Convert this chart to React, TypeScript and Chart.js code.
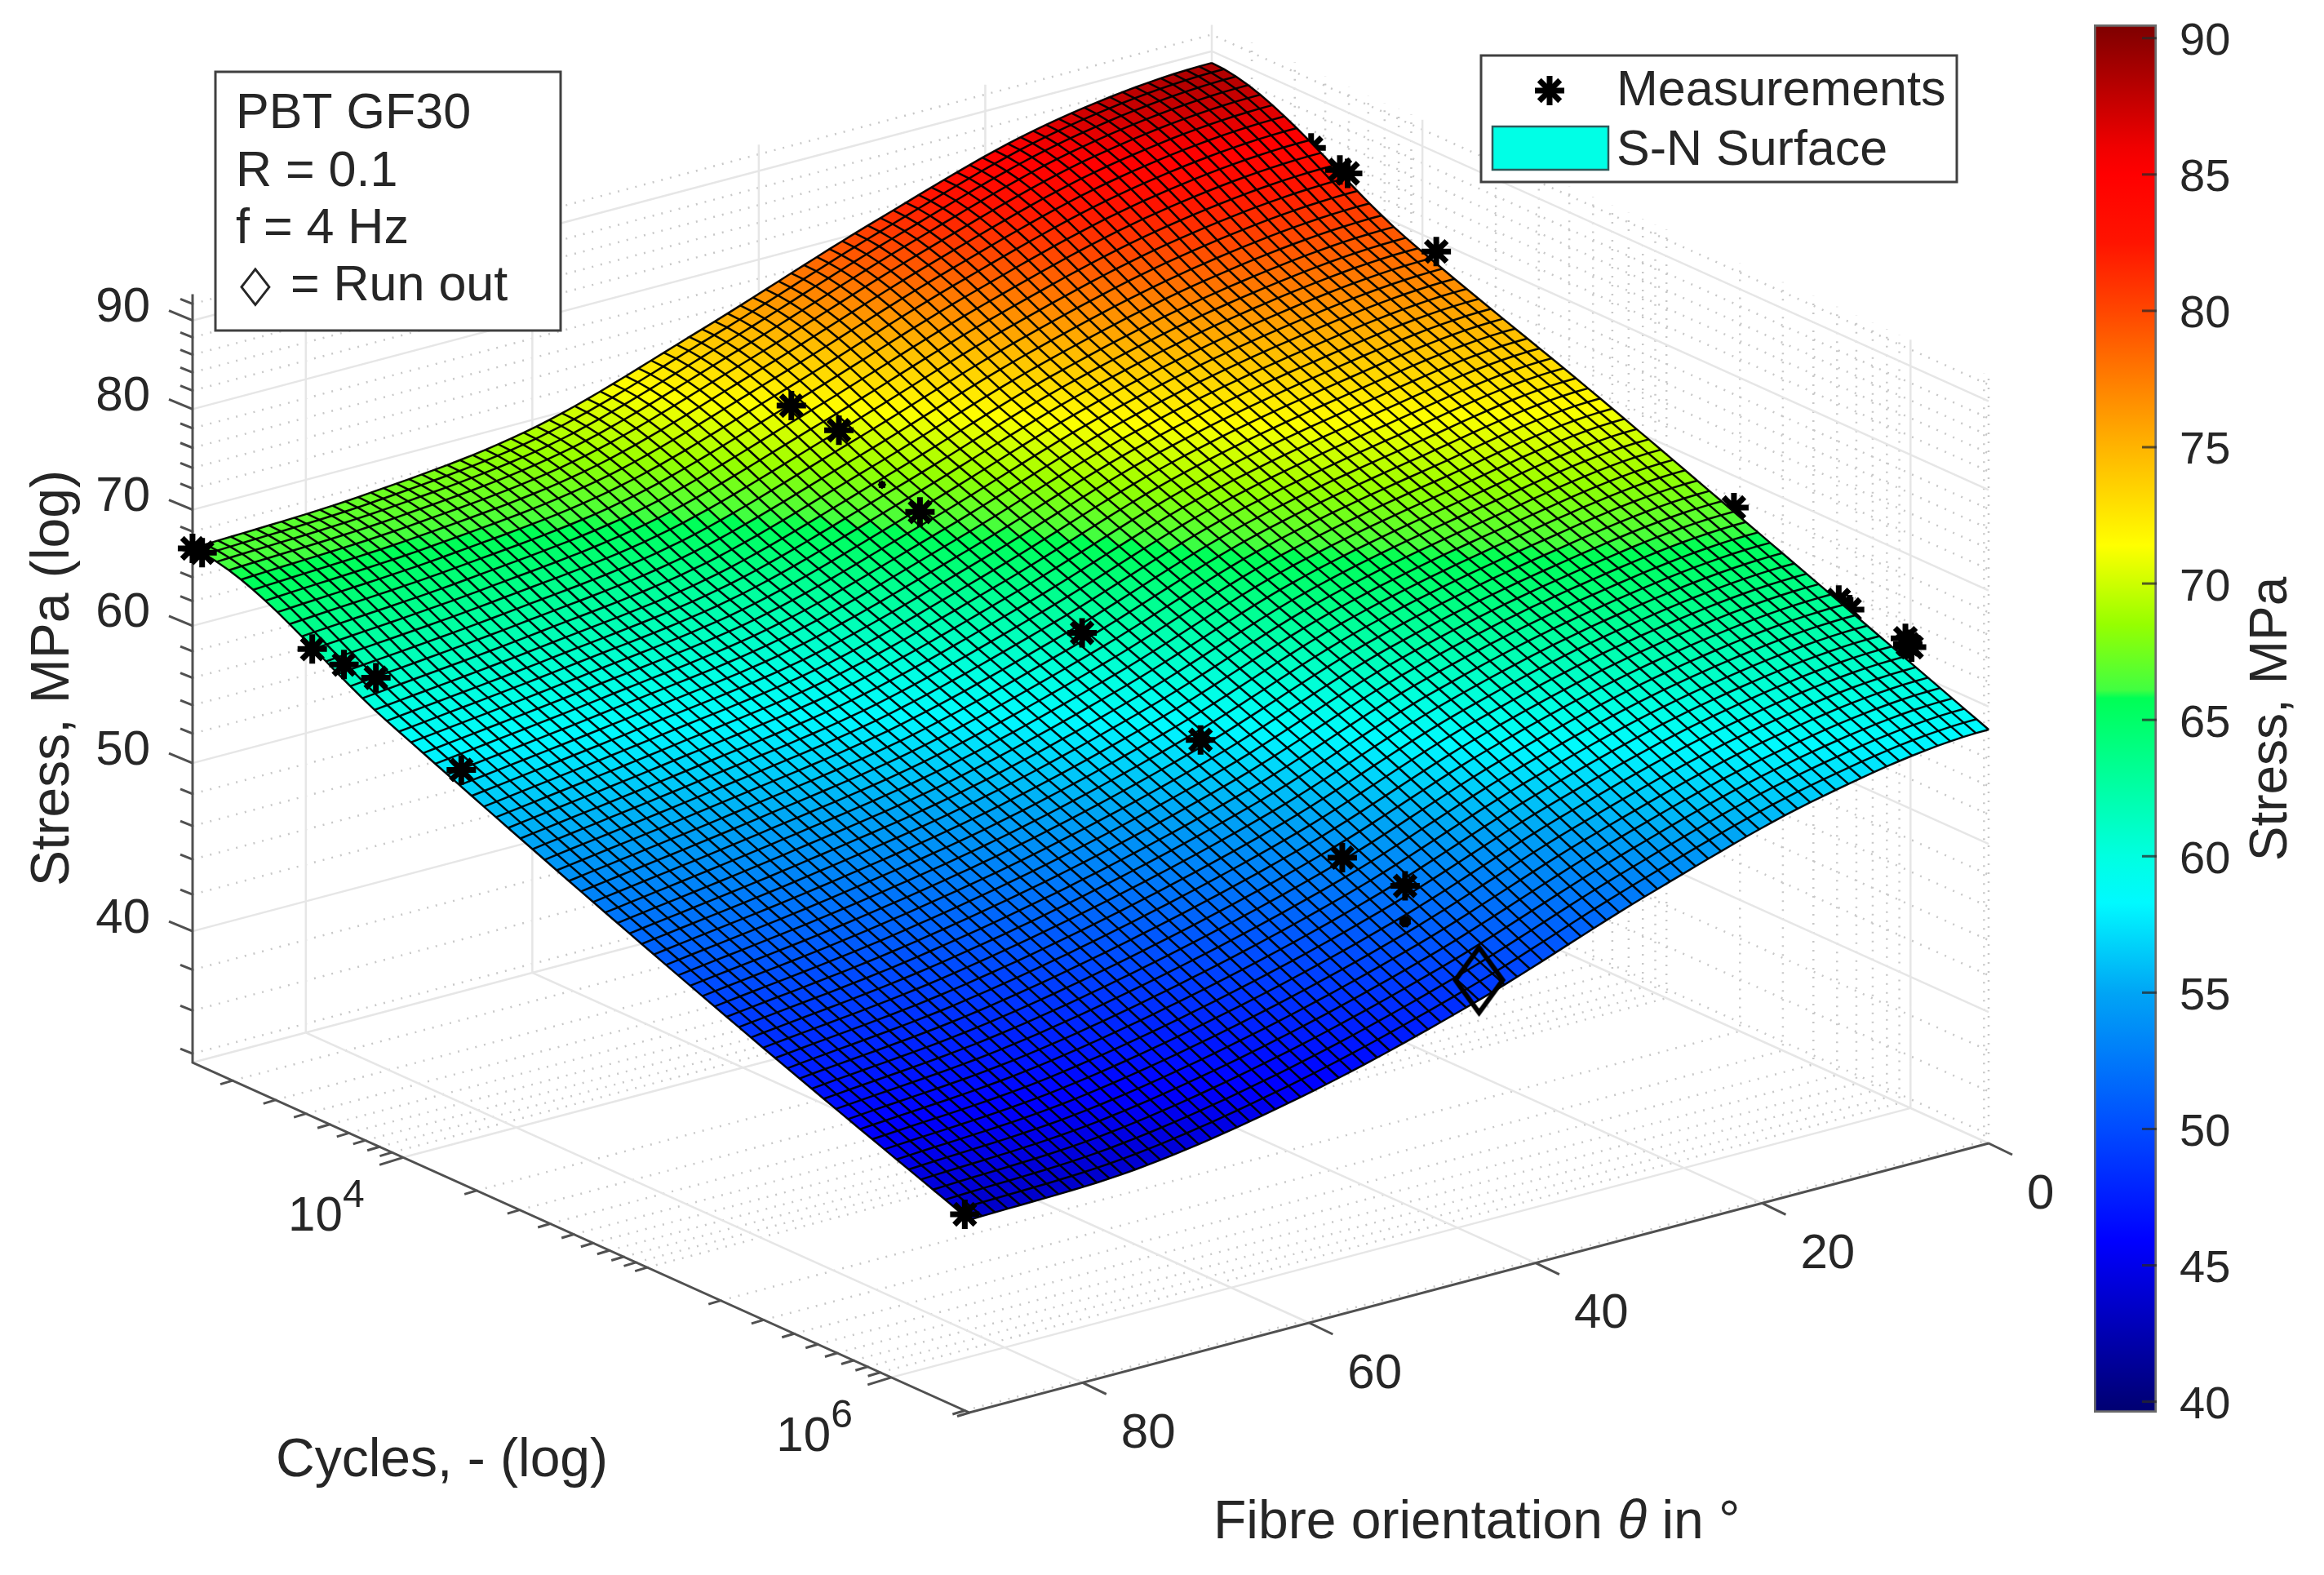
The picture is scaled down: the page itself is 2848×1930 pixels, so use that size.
import React, { useEffect, useRef } from "react";
import { Chart, registerables } from "chart.js";

Chart.register(...registerables);

// ---------- data ----------
const surfaceThetas = [0, 15, 30, 45, 60, 75, 90];
const surfaceCycles = [1370, 8570, 53600, 334000, 2090000];
const surfaceStress = [
  [88.6, 78.9, 71.6, 64.6, 58.2],
  [86.4, 77.1, 69.3, 63.0, 56.4],
  [80.7, 73.1, 66.0, 59.5, 52.7],
  [74.4, 67.7, 61.0, 54.8, 48.6],
  [69.2, 63.1, 57.2, 51.5, 45.6],
  [67.2, 61.0, 55.0, 49.2, 43.8],
  [66.5, 59.4, 53.2, 47.9, 43.4],
];

const measuredTheta = [90, 90, 90, 90, 90, 90, 90, 45, 45, 45, 45, 45, 45, 45, 45, 45, 0, 0, 0, 0, 0, 0];
const measuredCycles = [1370, 1500, 4240, 5720, 7730, 17300, 2000000, 3180, 4980, 10700, 49400, 151000, 575000, 1040000, 7480, 1040000, 4590, 4940, 11400, 975000, 953000, 1010000];
const measuredStress = [66.5, 66.5, 62.5, 62.4, 62.5, 58.2, 43.6, 70.9, 70.6, 66.5, 62.4, 58.1, 54.1, 54.1, 67.4, 51.6, 83.0, 83.0, 78.9, 62.1, 62.5, 62.0];
const measuredRadius = [18, 18, 18, 18, 18, 18, 18, 18, 18, 18, 18, 18, 18, 18, 4, 7, 18, 18, 18, 18, 18, 18];

const buriedTheta = [0, 0, 0, 0];
const buriedCycles = [3500, 189000, 508000, 563000];
const buriedStress = [84.0, 67.1, 63.2, 62.8];

const runOutTheta = [45];
const runOutCycles = [2090000];
const runOutStress = [49.9];

const thetaMajor = [0, 20, 40, 60, 80];
const cycleMajor = [1e4, 1e6];
const cycleMinor = [2e3, 3e3, 4e3, 5e3, 6e3, 7e3, 8e3, 9e3, 2e4, 3e4, 4e4, 5e4, 6e4, 7e4, 8e4, 9e4, 1e5, 2e5, 3e5, 4e5, 5e5, 6e5, 7e5, 8e5, 9e5, 2e6];
const stressMajor = [40, 50, 60, 70, 80, 90];
const stressMinor = [34, 36, 38, 42, 44, 46, 48, 52, 54, 56, 58, 62, 64, 66, 68, 72, 74, 76, 78, 82, 84, 86, 88, 92];
const colorbarTicks = [40, 45, 50, 55, 60, 65, 70, 75, 80, 85, 90];
const colorStops: [number, number, number, number][] = [
  [39.6, 0, 0, 112], [45.9, 0, 0, 255], [50, 0, 75, 255], [55, 0, 165, 245], [58.3, 0, 250, 255],
  [60, 0, 255, 225], [65.8, 0, 255, 85], [66.1, 65, 255, 65], [68.5, 150, 255, 0], [70, 205, 255, 0],
  [71.4, 255, 255, 0], [75, 255, 180, 0], [77.5, 255, 125, 0], [80, 255, 70, 0], [82.5, 255, 20, 0],
  [85, 255, 0, 0], [86, 240, 0, 0], [90.5, 125, 0, 0],
];
const noteLines = ["PBT GF30", "R = 0.1", "f = 4 Hz"];

// ---------- view ----------
const W = 2848, H = 1930;
const THETA_MAX = 90, LOGN_MIN = 3.137, LOGN_SPAN = 3.183, Z_MIN = 33.6, Z_MAX = 93.2;
const FONT = '"Liberation Sans", Arial, sans-serif';
const TEXT = "#262626";

function project(theta: number, cycles: number, stress: number) {
  const u = (Math.log10(cycles) - LOGN_MIN) / LOGN_SPAN;
  const a = THETA_MAX - theta;
  return {
    x: 236 + (1249 / 90) * a + 952 * u,
    y: 1302 - (330 / 90) * a + 429 * u - 2125 * Math.log10(stress / Z_MIN),
  };
}
const Nmin = Math.pow(10, LOGN_MIN), Nmax = Math.pow(10, LOGN_MIN + LOGN_SPAN);
const gap = { x: NaN, y: NaN };

function segs(list: [number, number, number][][]) {
  const out: any[] = [];
  list.forEach((s) => { s.forEach((p) => out.push(project(p[0], p[1], p[2]))); out.push(gap); });
  return out;
}

function colorFor(v: number) {
  const s = colorStops;
  if (v <= s[0][0]) return `rgb(${s[0][1]},${s[0][2]},${s[0][3]})`;
  for (let i = 1; i < s.length; i++) {
    if (v <= s[i][0]) {
      const t = (v - s[i - 1][0]) / (s[i][0] - s[i - 1][0]);
      const c = [1, 2, 3].map((k) => Math.round(s[i - 1][k] + t * (s[i][k] - s[i - 1][k])));
      return `rgb(${c[0]},${c[1]},${c[2]})`;
    }
  }
  const l = s[s.length - 1];
  return `rgb(${l[1]},${l[2]},${l[3]})`;
}

// smooth drawing of the read table (same role as a line's tension)
function cr(a: number, b: number, c: number, d: number, t: number) {
  return 0.5 * (2 * b + (c - a) * t + (2 * a - 5 * b + 4 * c - d) * t * t + (3 * b - a - 3 * c + d) * t * t * t);
}
function pick(i: number, j: number) {
  const ni = surfaceStress.length - 1, nj = surfaceStress[0].length - 1;
  const ci = Math.max(0, Math.min(ni, i)), cj = Math.max(0, Math.min(nj, j));
  let v = Math.log10(surfaceStress[ci][cj]);
  if (i !== ci) v += (i - ci) * (Math.log10(surfaceStress[ci][cj]) - Math.log10(surfaceStress[ci === 0 ? 1 : ni - 1][cj]));
  if (j !== cj) v += (j - cj) * (Math.log10(surfaceStress[ci][cj]) - Math.log10(surfaceStress[ci][cj === 0 ? 1 : nj - 1]));
  return v;
}
function stressAt(fi: number, fj: number) {
  const i = Math.min(surfaceStress.length - 2, Math.floor(fi)), j = Math.min(surfaceStress[0].length - 2, Math.floor(fj));
  const ti = fi - i, tj = fj - j;
  const row = [-1, 0, 1, 2].map((di) =>
    cr(pick(i + di, j - 1), pick(i + di, j), pick(i + di, j + 1), pick(i + di, j + 2), tj));
  return Math.pow(10, cr(row[0], row[1], row[2], row[3], ti));
}

const MESH_T = 80, MESH_N = 64;
const surfacePlugin = {
  id: "surfaceMesh",
  beforeDatasetDraw(chart: any, args: any) {
    if (chart.data.datasets[args.index].label !== "S-N Surface") return;
    const { ctx, scales } = chart;
    const P: { x: number; y: number; z: number }[][] = [];
    const lo = Math.log10(surfaceCycles[0]), hi = Math.log10(surfaceCycles[surfaceCycles.length - 1]);
    for (let a = 0; a <= MESH_T; a++) {
      const row = [];
      for (let b = 0; b <= MESH_N; b++) {
        const theta = (THETA_MAX * a) / MESH_T;
        const logN = lo + ((hi - lo) * b) / MESH_N;
        const z = stressAt((a / MESH_T) * (surfaceThetas.length - 1), (b / MESH_N) * (surfaceCycles.length - 1));
        const p = project(theta, Math.pow(10, logN), z);
        row.push({ x: scales.x.getPixelForValue(p.x), y: scales.y.getPixelForValue(p.y), z });
      }
      P.push(row);
    }
    ctx.save();
    ctx.lineWidth = 1;
    for (let a = 0; a < MESH_T; a++) {
      for (let b = 0; b < MESH_N; b++) {
        const q = [P[a][b], P[a + 1][b], P[a + 1][b + 1], P[a][b + 1]];
        const col = colorFor((q[0].z + q[1].z + q[2].z + q[3].z) / 4);
        ctx.fillStyle = col; ctx.strokeStyle = col;
        ctx.beginPath();
        q.forEach((p, k) => (k ? ctx.lineTo(p.x, p.y) : ctx.moveTo(p.x, p.y)));
        ctx.closePath(); ctx.fill(); ctx.stroke();
      }
    }
    ctx.strokeStyle = "rgba(0,0,0,0.95)";
    ctx.lineWidth = 2.5;
    ctx.lineJoin = "round";
    for (let a = 0; a <= MESH_T; a++) {
      ctx.beginPath();
      for (let b = 0; b <= MESH_N; b++) (b ? ctx.lineTo(P[a][b].x, P[a][b].y) : ctx.moveTo(P[a][b].x, P[a][b].y));
      ctx.stroke();
    }
    for (let b = 0; b <= MESH_N; b++) {
      ctx.beginPath();
      for (let a = 0; a <= MESH_T; a++) (a ? ctx.lineTo(P[a][b].x, P[a][b].y) : ctx.moveTo(P[a][b].x, P[a][b].y));
      ctx.stroke();
    }
    ctx.restore();
  },
};

function text(ctx: any, s: string, x: number, y: number, size: number, align = "left", base = "alphabetic", style = "") {
  ctx.font = `${style} ${size}px ${FONT}`;
  ctx.fillStyle = TEXT;
  ctx.textAlign = align;
  ctx.textBaseline = base;
  ctx.fillText(s, x, y);
}

const labelsPlugin = {
  id: "labels3d",
  afterDraw(chart: any) {
    const { ctx, scales } = chart;
    const px = (p: { x: number; y: number }) => ({ x: scales.x.getPixelForValue(p.x), y: scales.y.getPixelForValue(p.y) });
    ctx.save();
    // stress tick labels
    stressMajor.forEach((v) => {
      const p = px(project(THETA_MAX, Nmin, v));
      text(ctx, String(v), 184, p.y - 15, 60, "right", "middle");
    });
    // orientation tick labels
    thetaMajor.forEach((v) => {
      const p = px(project(v, Nmax, Z_MIN));
      text(ctx, String(v), p.x + 47, p.y + 63, 60, "left", "middle");
    });
    // cycle tick labels
    cycleMajor.forEach((v) => {
      const p = px(project(THETA_MAX, v, Z_MIN));
      text(ctx, "10", p.x - 141, p.y + 90, 60);
      text(ctx, String(Math.round(Math.log10(v))), p.x - 74, p.y + 61, 48);
    });
    // axis titles
    ctx.save();
    ctx.translate(84, 831);
    ctx.rotate(-Math.PI / 2);
    text(ctx, "Stress, MPa (log)", 0, 0, 66, "center");
    ctx.restore();
    text(ctx, "Cycles, - (log)", 338, 1809, 66);
    let fx = 1487;
    text(ctx, "Fibre orientation ", fx, 1885, 66);
    fx += ctx.measureText("Fibre orientation ").width;
    text(ctx, "\u03b8", fx, 1885, 66, "left", "alphabetic", "italic");
    fx += ctx.measureText("\u03b8").width;
    text(ctx, " in \u00b0", fx, 1885, 66);
    // annotation box
    ctx.fillStyle = "#fff"; ctx.strokeStyle = "#404040"; ctx.lineWidth = 3;
    ctx.fillRect(264, 88, 423, 317); ctx.strokeRect(264, 88, 423, 317);
    noteLines.forEach((s, i) => text(ctx, s, 289, 157 + i * 70.5, 61));
    ctx.save();
    ctx.translate(313, 352);
    ctx.scale(0.82, 1.05);
    ctx.font = `60px "DejaVu Sans"`;
    ctx.fillStyle = TEXT; ctx.textAlign = "center"; ctx.textBaseline = "middle";
    ctx.fillText("\u25c7", 0, 0);
    ctx.restore();
    text(ctx, "= Run out", 356, 368, 61);
    // legend box
    ctx.fillStyle = "#fff"; ctx.strokeStyle = "#404040"; ctx.lineWidth = 3;
    ctx.fillRect(1815, 68, 583, 155); ctx.strokeRect(1815, 68, 583, 155);
    ctx.strokeStyle = "#000"; ctx.lineWidth = 7; ctx.lineCap = "butt";
    for (let k = 0; k < 4; k++) {
      const an = (k * Math.PI) / 4;
      ctx.beginPath();
      ctx.moveTo(1899 - 18 * Math.cos(an), 111 - 18 * Math.sin(an));
      ctx.lineTo(1899 + 18 * Math.cos(an), 111 + 18 * Math.sin(an));
      ctx.stroke();
    }
    text(ctx, "Measurements", 1981, 129, 61);
    ctx.fillStyle = "rgb(0,255,230)"; ctx.strokeStyle = "#2c5a5a"; ctx.lineWidth = 2.5;
    ctx.fillRect(1829, 155, 142, 53); ctx.strokeRect(1829, 155, 142, 53);
    text(ctx, "S-N Surface", 1981, 202, 61);
    ctx.restore();
  },
};

const colorbarPlugin = {
  id: "colorbarDecor",
  afterDraw(chart: any) {
    const { ctx, chartArea, scales } = chart;
    ctx.save();
    ctx.strokeStyle = "rgba(40,40,40,0.75)";
    ctx.lineWidth = 3;
    colorbarTicks.forEach((v) => {
      const y = scales.y.getPixelForValue(v);
      ctx.beginPath();
      ctx.moveTo(chartArea.right - 18, y);
      ctx.lineTo(chartArea.right, y);
      ctx.stroke();
    });
    ctx.translate(2802 - 2540, 881);
    ctx.rotate(-Math.PI / 2);
    text(ctx, "Stress, MPa", 0, 0, 64, "center");
    ctx.restore();
  },
};

function lineSet(label: string, data: any[], color: string, width: number, order: number, dash?: number[]) {
  return { label, data, showLine: true, spanGaps: false, borderColor: color, borderWidth: width, borderDash: dash || [], pointRadius: 0, order, clip: false, tension: 0 };
}

function diamondImage() {
  const c = document.createElement("canvas");
  c.width = 70; c.height = 92;
  const g = c.getContext("2d") as CanvasRenderingContext2D;
  g.strokeStyle = "#000"; g.lineWidth = 6; g.lineJoin = "miter";
  g.beginPath();
  g.moveTo(35, 6); g.lineTo(64, 46); g.lineTo(35, 86); g.lineTo(6, 46); g.closePath();
  g.stroke();
  return c;
}

export default function App() {
  const mainRef = useRef<HTMLCanvasElement>(null);
  const barRef = useRef<HTMLCanvasElement>(null);

  useEffect(() => {
    const gridSolid = segs([
      ...stressMajor.map((z) => [[90, Nmin, z], [0, Nmin, z], [0, Nmax, z]] as [number, number, number][]),
      ...thetaMajor.filter((t) => t > 0).map((t) => [[t, Nmax, Z_MIN], [t, Nmin, Z_MIN], [t, Nmin, Z_MAX]] as [number, number, number][]),
      ...cycleMajor.map((n) => [[90, n, Z_MIN], [0, n, Z_MIN], [0, n, Z_MAX]] as [number, number, number][]),
      [[90, Nmin, Z_MIN], [0, Nmin, Z_MIN], [0, Nmax, Z_MIN]],
      [[0, Nmin, Z_MIN], [0, Nmin, Z_MAX]],
    ]);
    const gridDotted = segs([
      ...stressMinor.map((z) => [[90, Nmin, z], [0, Nmin, z], [0, Nmax, z]] as [number, number, number][]),
      ...cycleMinor.map((n) => [[90, n, Z_MIN], [0, n, Z_MIN], [0, n, Z_MAX]] as [number, number, number][]),
      [[0, Nmax, Z_MIN], [0, Nmax, Z_MAX]],
    ]);
    const axisLines = segs([
      [[90, Nmin, Z_MAX], [90, Nmin, Z_MIN], [90, Nmax, Z_MIN], [0, Nmax, Z_MIN]],
    ]);
    const ticks: any[] = [];
    const tick = (p: { x: number; y: number }, dx: number, dy: number) => {
      ticks.push(p, { x: p.x + dx, y: p.y + dy }, gap);
    };
    stressMajor.forEach((z) => tick(project(90, Nmin, z), -29, -12));
    stressMinor.forEach((z) => tick(project(90, Nmin, z), -15, -6));
    cycleMajor.forEach((n) => tick(project(90, n, Z_MIN), -29, 9));
    cycleMinor.forEach((n) => tick(project(90, n, Z_MIN), -15, 4.5));
    thetaMajor.forEach((t) => tick(project(t, Nmax, Z_MIN), 29, 14));
    tick(project(90, Nmax, Z_MIN), -15, 4.5);

    const control: any[] = [];
    surfaceThetas.forEach((t, i) => surfaceCycles.forEach((n, j) => control.push(project(t, n, surfaceStress[i][j]))));
    const pts = (th: number[], cy: number[], st: number[]) => th.map((t, i) => project(t, cy[i], st[i]));

    const main = new Chart(mainRef.current as HTMLCanvasElement, {
      type: "scatter",
      data: {
        datasets: [
          lineSet("grid", gridSolid, "rgb(230,230,230)", 2.5, 20),
          lineSet("minor grid", gridDotted, "rgb(200,200,200)", 2.5, 21, [2, 9]),
          lineSet("axes", axisLines, "rgb(80,80,80)", 3, 18),
          lineSet("ticks", ticks, "rgb(80,80,80)", 3, 19),
          { label: "Buried measurements", data: pts(buriedTheta, buriedCycles, buriedStress), pointStyle: "star", pointRadius: 18, pointBorderWidth: 7, pointBorderColor: "#000", pointBackgroundColor: "#000", order: 10, clip: false },
          { label: "S-N Surface", data: control, pointRadius: 0, order: 9, clip: false },
          { label: "Measurements", data: pts(measuredTheta, measuredCycles, measuredStress), pointStyle: "star", pointRadius: measuredRadius, pointBorderWidth: 7, pointBorderColor: "#000", pointBackgroundColor: "#000", order: 5, clip: false },
          { label: "Run out", data: pts(runOutTheta, runOutCycles, runOutStress), pointStyle: diamondImage(), pointRadius: 30, order: 4, clip: false },
        ] as any,
      },
      options: {
        animation: false,
        responsive: false,
        events: [],
        layout: { padding: 0, autoPadding: false },
        plugins: { legend: { display: false }, tooltip: { enabled: false } },
        scales: {
          x: { type: "linear", display: false, min: 0, max: W },
          y: { type: "linear", display: false, min: 0, max: H, reverse: true },
        },
      } as any,
      plugins: [surfacePlugin, labelsPlugin] as any,
    });

    const bar = new Chart(barRef.current as HTMLCanvasElement, {
      type: "bar",
      data: {
        labels: [""],
        datasets: [{
          label: "Stress, MPa",
          data: [[colorStops[0][0], colorStops[colorStops.length - 1][0]]],
          categoryPercentage: 1,
          barPercentage: 1,
          borderWidth: 3,
          borderSkipped: false,
          borderColor: "#6a6a6a",
          backgroundColor: (c: any) => {
            const s = c.chart.scales.y;
            const area = c.chart.chartArea;
            if (!s || !area) return "#000";
            const lo = colorStops[0][0], hi = colorStops[colorStops.length - 1][0];
            const y0 = s.getPixelForValue(lo), y1 = s.getPixelForValue(hi);
            if (!Number.isFinite(y0) || !Number.isFinite(y1)) return "#000";
            const g = c.chart.ctx.createLinearGradient(0, y0, 0, y1);
            colorStops.forEach((st) => g.addColorStop((st[0] - lo) / (hi - lo), `rgb(${st[1]},${st[2]},${st[3]})`));
            return g;
          },
        }] as any,
      },
      options: {
        animation: false,
        responsive: false,
        events: [],
        layout: { padding: { left: 26, top: 30, bottom: 199, right: 0 }, autoPadding: false },
        plugins: { legend: { display: false }, tooltip: { enabled: false } },
        scales: {
          x: { display: false },
          y: {
            position: "right",
            min: colorStops[0][0],
            max: colorStops[colorStops.length - 1][0],
            grid: { display: false },
            border: { display: false },
            afterBuildTicks: (a: any) => { a.ticks = colorbarTicks.map((v) => ({ value: v })); },
            afterFit: (a: any) => { a.width = 205; a.paddingTop = 0; a.paddingBottom = 0; },
            ticks: { padding: 20, labelOffset: 5, autoSkip: false, maxRotation: 0, color: TEXT, font: { family: FONT, size: 56 } },
          },
        },
      } as any,
      plugins: [colorbarPlugin] as any,
    });

    return () => { main.destroy(); bar.destroy(); };
  }, []);

  return (
    <div style={{ position: "fixed", left: 0, top: 0, width: W, height: H, background: "#fff", overflow: "hidden" }}>
      <canvas ref={mainRef} width={W} height={H} style={{ position: "absolute", left: 0, top: 0, width: W, height: H, filter: "blur(0.6px)" }} />
      <canvas ref={barRef} width={308} height={H} style={{ position: "absolute", left: 2540, top: 0, width: 308, height: H, filter: "blur(0.6px)" }} />
    </div>
  );
}
